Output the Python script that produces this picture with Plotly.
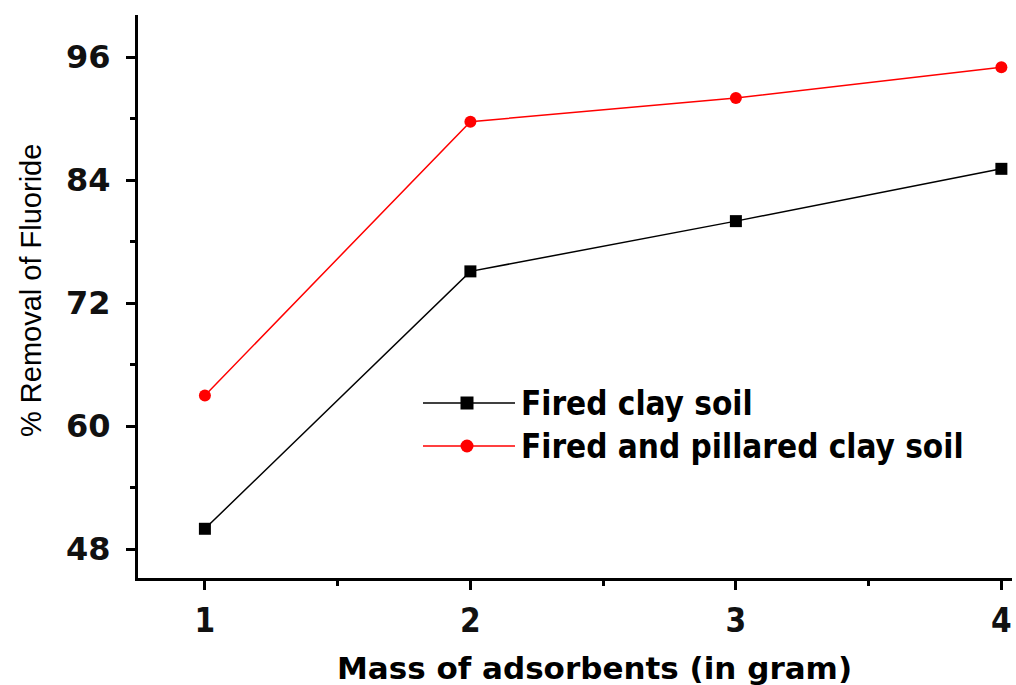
import plotly.graph_objects as go

# Adsorbent mass (g) and fluoride removal (%)
mass = [1, 2, 3, 4]
fired_clay = [50.0, 75.1, 80.0, 85.1]
fired_pillared = [63.0, 89.7, 92.0, 95.0]

series_names = ["Fired clay soil", "Fired and pillared clay soil"]
y_ticks = [48, 60, 72, 84, 96]
x_ticks = [1, 2, 3, 4]

W, H = 1016, 685
L, R, T, B = 138, 4, 15, 107
pw, ph = W - L - R, H - T - B


def px_x(p):
    return (p - L) / pw


def px_y(p):
    return (H - B - p) / ph


fig = go.Figure()

fig.add_trace(go.Scatter(
    x=mass, y=fired_clay, mode="lines+markers", name=series_names[0],
    line=dict(color="black", width=1.5),
    marker=dict(symbol="square", size=12, color="black"),
    showlegend=False,
))
fig.add_trace(go.Scatter(
    x=mass, y=fired_pillared, mode="lines+markers", name=series_names[1],
    line=dict(color="#ff0000", width=1.5),
    marker=dict(symbol="circle", size=12, color="#ff0000"),
    showlegend=False,
))

# Legend drawn inside the plot on an overlay axis spanning the plot area
leg_x0, leg_xm, leg_x1 = px_x(423), px_x(467), px_x(515)
leg_rows = [px_y(403), px_y(446)]
leg_styles = [("black", "square"), ("#ff0000", "circle")]
for name, yy, (col, sym) in zip(series_names, leg_rows, leg_styles):
    fig.add_trace(go.Scatter(
        x=[leg_x0, leg_x1], y=[yy, yy],
        xaxis="x2", yaxis="y2", mode="lines",
        line=dict(color=col, width=1.5),
        showlegend=False, hoverinfo="skip",
    ))
    fig.add_trace(go.Scatter(
        x=[leg_xm], y=[yy],
        xaxis="x2", yaxis="y2", mode="markers",
        marker=dict(symbol=sym, size=13, color=col),
        showlegend=False, hoverinfo="skip",
    ))
    fig.add_annotation(
        x=px_x(519), y=yy, xref="paper", yref="paper",
        text="<b>" + name + "</b>", showarrow=False, xanchor="left", yanchor="middle",
        font=dict(family="DejaVu Sans Condensed, DejaVu Sans", size=33, color="black"),
    )

fig.add_annotation(
    x=px_x(31), y=px_y(291), xref="paper", yref="paper",
    text="% Removal of Fluoride", textangle=-90, showarrow=False,
    xanchor="center", yanchor="middle",
    font=dict(family="Liberation Sans", size=29, color="black"),
)
fig.add_annotation(
    x=px_x(594), y=px_y(668), xref="paper", yref="paper",
    text="<b>Mass of adsorbents (in gram)</b>", showarrow=False,
    xanchor="center", yanchor="middle",
    font=dict(family="DejaVu Sans", size=31, color="black"),
)

fig.update_layout(
    width=W, height=H,
    margin=dict(l=L, r=R, t=T, b=B),
    paper_bgcolor="white", plot_bgcolor="white",
    showlegend=False,
    xaxis=dict(
        range=[0.748, 4.04], tickvals=x_ticks, ticktext=[str(v) for v in x_ticks],
        showgrid=False, zeroline=False,
        showline=True, linecolor="black", linewidth=3,
        ticks="outside", ticklen=9, tickwidth=3, tickcolor="black",
        minor=dict(dtick=0.5, tick0=0.5, ticks="outside", ticklen=5, tickwidth=3, tickcolor="black"),
        tickfont=dict(family="DejaVu Sans Condensed, DejaVu Sans", size=33, color="#111", weight="bold"),
        ticklabelstandoff=2,
    ),
    yaxis=dict(
        range=[45.2, 100.1], tickvals=y_ticks,
        showgrid=False, zeroline=False,
        showline=True, linecolor="black", linewidth=3,
        ticks="outside", ticklen=9, tickwidth=3, tickcolor="black",
        minor=dict(dtick=6, tick0=48, ticks="outside", ticklen=5, tickwidth=3, tickcolor="black"),
        tickfont=dict(family="DejaVu Sans", size=32, color="#111", weight="bold"),
        ticklabelstandoff=9,
    ),
    xaxis2=dict(overlaying="x", range=[0, 1], visible=False, fixedrange=True),
    yaxis2=dict(overlaying="y", range=[0, 1], visible=False, fixedrange=True),
)

fig.write_html("out.html")
